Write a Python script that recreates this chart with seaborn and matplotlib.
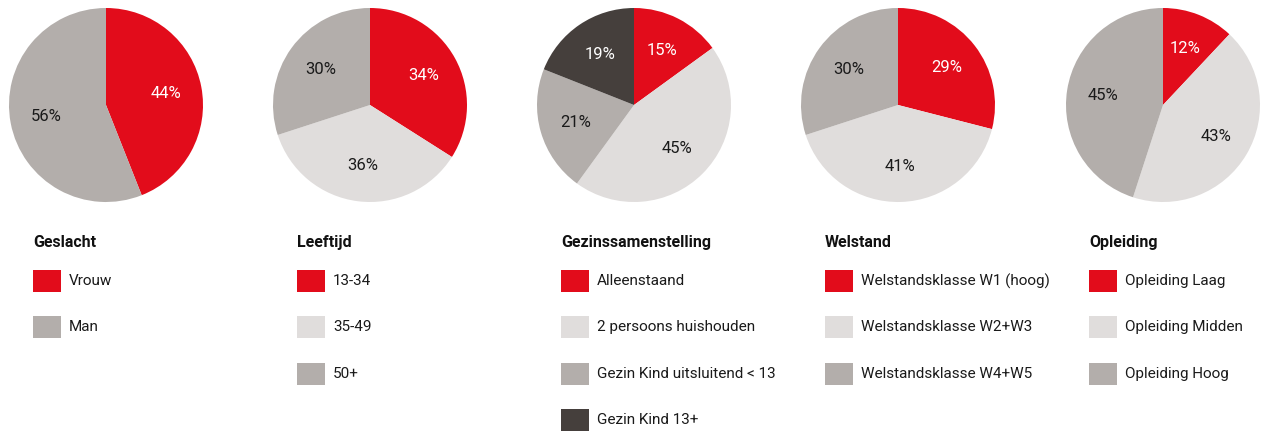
import matplotlib
matplotlib.use("Agg")
import matplotlib.pyplot as plt
from matplotlib.patches import Rectangle
import seaborn as sns

sns.set_theme(style="white")
plt.rcParams['font.family'] = ['Roboto', 'DejaVu Sans']

# kleuren
RED = "#e20c1b"
LIGHT = "#e0dddc"
GRAY = "#b3aeab"
DARK = "#453f3c"

titles = ["Geslacht", "Leeftijd", "Gezinssamenstelling", "Welstand", "Opleiding"]

geslacht_labels = ["Vrouw", "Man"]
geslacht_values = [44, 56]

leeftijd_labels = ["13-34", "35-49", "50+"]
leeftijd_values = [34, 36, 30]

gezin_labels = ["Alleenstaand", "2 persoons huishouden",
                "Gezin Kind uitsluitend < 13", "Gezin Kind 13+"]
gezin_values = [15, 45, 21, 19]

welstand_labels = ["Welstandsklasse W1 (hoog)", "Welstandsklasse W2+W3",
                   "Welstandsklasse W4+W5"]
welstand_values = [29, 41, 30]

opleiding_labels = ["Opleiding Laag", "Opleiding Midden", "Opleiding Hoog"]
opleiding_values = [12, 43, 45]

groups = [
    (geslacht_labels, geslacht_values, [RED, GRAY]),
    (leeftijd_labels, leeftijd_values, [RED, LIGHT, GRAY]),
    (gezin_labels, gezin_values, [RED, LIGHT, GRAY, DARK]),
    (welstand_labels, welstand_values, [RED, LIGHT, GRAY]),
    (opleiding_labels, opleiding_values, [RED, LIGHT, GRAY]),
]

W, H = 1267, 436
fig = plt.figure(figsize=(W / 100, H / 100), dpi=100)

centers = [106, 370, 634, 898, 1163]
cy, r = 105, 97


def fx(px):
    return px / W


def fy(py):
    return 1 - py / H


for i, (labels, values, colors) in enumerate(groups):
    cx = centers[i]
    ax = fig.add_axes([fx(cx - r), fy(cy + r), 2 * r / W, 2 * r / H])
    wedges, _, autotexts = ax.pie(values, colors=colors, startangle=90,
                                  counterclock=False, autopct="%d%%",
                                  pctdistance=0.63,
                                  wedgeprops=dict(linewidth=0),
                                  textprops=dict(fontsize=12))
    for t, c in zip(autotexts, colors):
        t.set_color("white" if c in (RED, DARK) else "#1a1a1a")
    ax.set_xlim(-1, 1)
    ax.set_ylim(-1, 1)
    ax.set_aspect("equal")
    ax.axis("off")

    # legenda
    lx = 33 + 264 * i
    fig.text(fx(lx), fy(242), titles[i], fontsize=11.5, fontweight="bold",
             va="center", ha="left", color="#111111")
    for j, (lab, col) in enumerate(zip(labels, colors)):
        ry = 281 + 46.3 * j
        fig.add_artist(Rectangle((fx(lx), fy(ry + 11)), 28 / W, 22 / H,
                                 transform=fig.transFigure, facecolor=col,
                                 edgecolor="none"))
        fig.text(fx(lx + 36), fy(ry), lab, fontsize=11, va="center",
                 ha="left", color="#1a1a1a")

fig.savefig("out.png", dpi=100)
